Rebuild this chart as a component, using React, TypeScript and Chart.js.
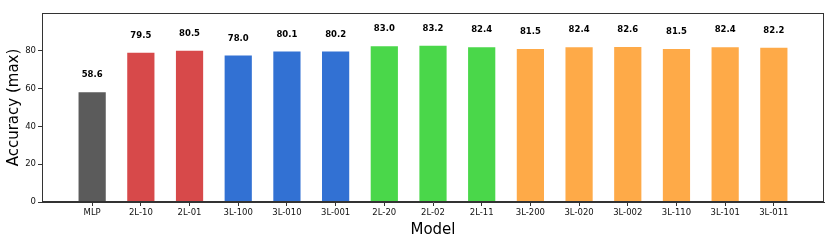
import React, { useEffect, useRef } from "react";
import { Chart, registerables } from "chart.js";

Chart.register(...registerables);

const categories = ["MLP", "2L-10", "2L-01", "3L-100", "3L-010", "3L-001", "2L-20", "2L-02", "2L-11", "3L-200", "3L-020", "3L-002", "3L-110", "3L-101", "3L-011"];
const values = [58.6, 79.5, 80.5, 78.0, 80.1, 80.2, 83.0, 83.2, 82.4, 81.5, 82.4, 82.6, 81.5, 82.4, 82.2];
const groups = ["base", "2L-1", "2L-1", "3L-1", "3L-1", "3L-1", "2L-2", "2L-2", "2L-2", "3L-2", "3L-2", "3L-2", "3L-2", "3L-2", "3L-2"];
const groupColors: Record<string, string> = {
  base: "#5b5b5b",
  "2L-1": "#d7494a",
  "3L-1": "#3271d3",
  "2L-2": "#4ad74a",
  "3L-2": "#feaa48",
};
const yTicks = [0, 20, 40, 60, 80];

const FONT = "'DejaVu Sans', sans-serif";

const framePlugin = {
  id: "frame",
  afterDatasetsDraw(chart: any) {
    const { ctx, chartArea } = chart;
    ctx.save();
    ctx.strokeStyle = "#333333";
    ctx.lineWidth = 1;
    ctx.strokeRect(Math.round(chartArea.left) + 0.5, Math.round(chartArea.top) + 0.5, Math.round(chartArea.right - chartArea.left) - 1, Math.round(chartArea.bottom - chartArea.top) - 1);
    const meta = chart.getDatasetMeta(0);
    ctx.fillStyle = "#000";
    ctx.font = `bold 8.5px ${FONT}`;
    ctx.textAlign = "center";
    ctx.textBaseline = "middle";
    meta.data.forEach((bar: any, i: number) => {
      ctx.fillText(values[i].toFixed(1), bar.x, bar.y - 16);
    });
    ctx.restore();
  },
};

export default function App() {
  const ref = useRef<HTMLCanvasElement>(null);
  useEffect(() => {
    if (!ref.current) return;
    const chart = new Chart(ref.current, {
      type: "bar",
      data: {
        datasets: [
          {
            data: values.map((v, i) => ({ x: i, y: v })),
            backgroundColor: groups.map((g) => groupColors[g]),
            borderColor: "rgba(255,255,255,0.45)",
            borderWidth: 1,
            barPercentage: 0.6,
            categoryPercentage: 1,
          },
        ],
      },
      options: {
        responsive: false,
        animation: false,
        layout: { padding: { top: 13, right: 6, left: 0, bottom: 0 } },
        plugins: { legend: { display: false }, tooltip: { enabled: false } },
        scales: {
          x: {
            type: "linear",
            offset: false,
            min: -1.03,
            max: 15.03,
            afterBuildTicks: (scale: any) => {
              scale.ticks = categories.map((_, i) => ({ value: i }));
            },
            afterFit: (scale: any) => {
              scale.height = 47;
            },
            ticks: {
              autoSkip: false,
              maxRotation: 0,
              padding: 2,
              color: "#111",
              font: { family: FONT, size: 8.5 },
              callback: (v: any) => categories[v] ?? "",
            },
            grid: { offset: false, drawOnChartArea: false, drawTicks: true, tickLength: 4, color: "#333" },
            border: { display: true, color: "#333", width: 1 },
            title: {
              display: true,
              text: "Model",
              color: "#000",
              font: { family: FONT, size: 15 },
              padding: { top: 0, bottom: 10 },
            },
          },
          y: {
            min: 0,
            max: 100,
            afterBuildTicks: (scale: any) => {
              scale.ticks = yTicks.map((v) => ({ value: v }));
            },
            afterFit: (scale: any) => {
              scale.width = 42;
            },
            ticks: {
              padding: 2,
              color: "#111",
              font: { family: FONT, size: 8.5 },
            },
            grid: { drawOnChartArea: false, drawTicks: true, tickLength: 4, color: "#333" },
            border: { display: true, color: "#333", width: 1 },
            title: {
              display: true,
              text: "Accuracy (max)",
              color: "#000",
              font: { family: FONT, size: 15 },
              padding: { top: 5, bottom: 0 },
            },
          },
        },
      },
      plugins: [framePlugin],
    } as any);
    return () => chart.destroy();
  }, []);
  return (
    <div style={{ position: "fixed", left: 0, top: 0, width: 830, height: 249, background: "#fff" }}>
      <canvas ref={ref} width={830} height={249} />
    </div>
  );
}
